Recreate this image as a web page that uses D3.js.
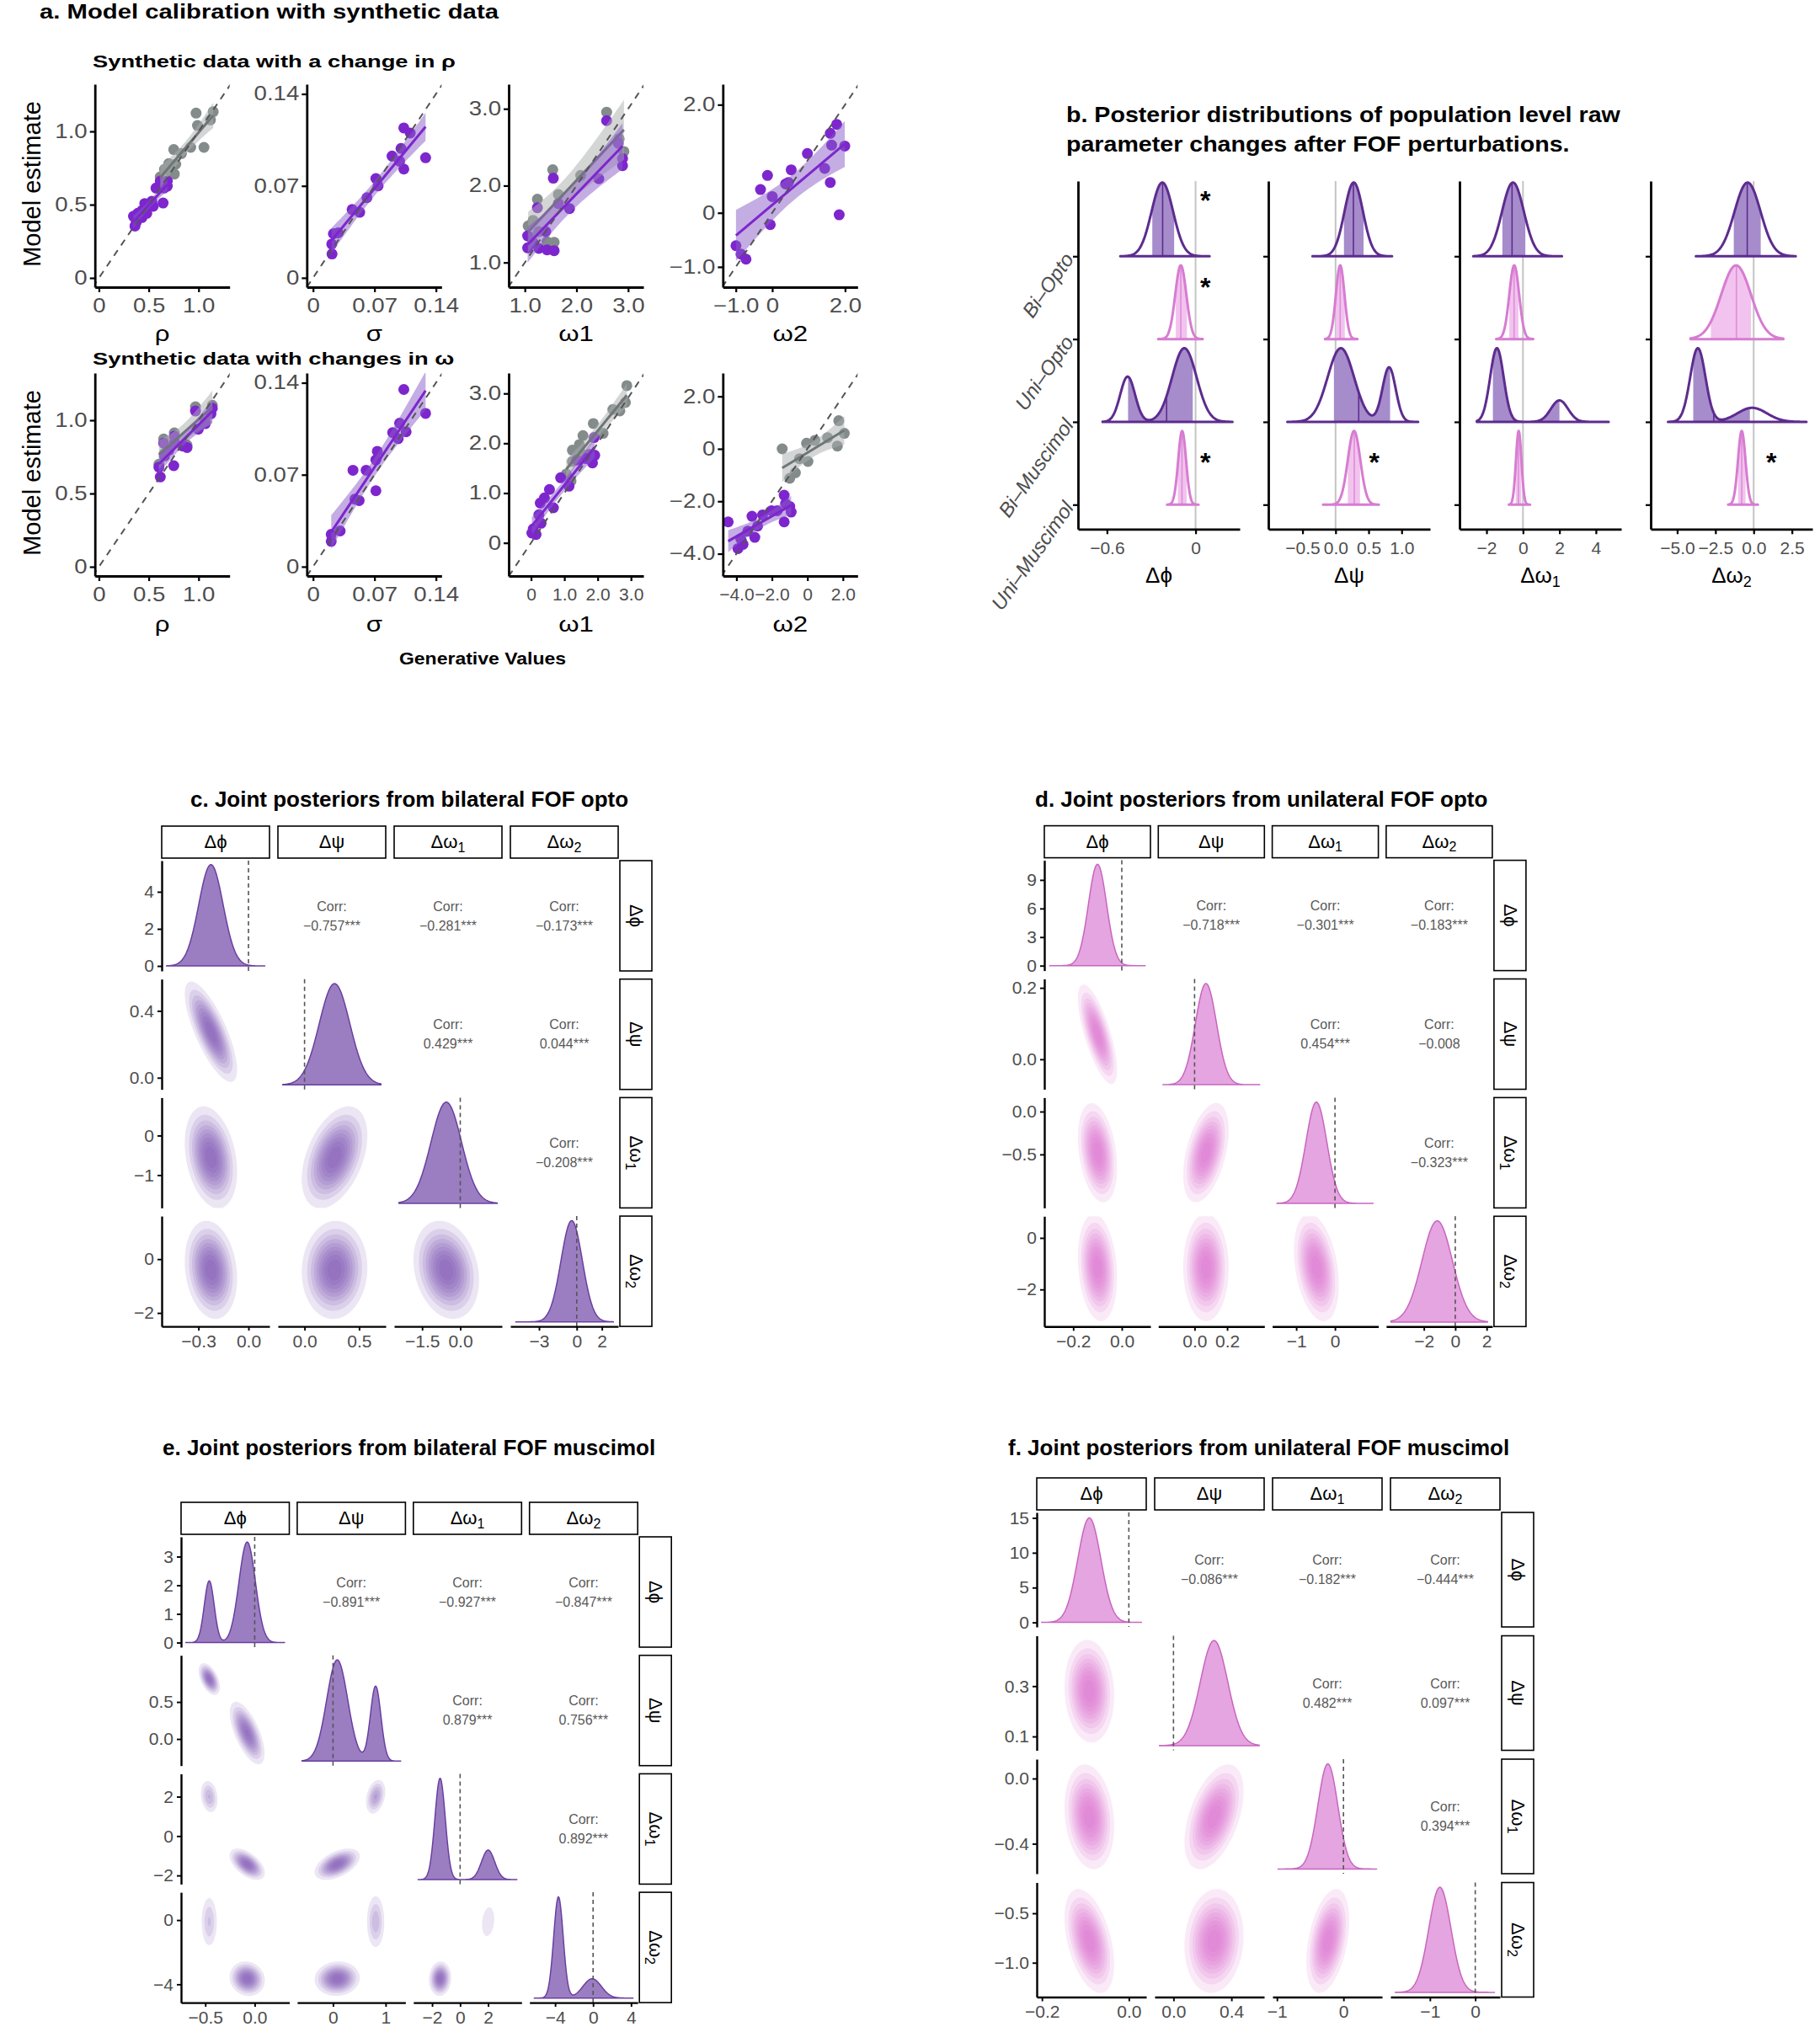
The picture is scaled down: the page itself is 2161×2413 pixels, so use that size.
<!DOCTYPE html>
<html>
<head>
<meta charset="utf-8">
<script src="https://cdn.jsdelivr.net/npm/d3@7"></script>
<style>
  body { margin: 0; background: #fff; }
  svg { display: block; }
  text { font-family: "Liberation Sans", Arial, sans-serif; }
</style>
</head>
<body>
<div id="chart"></div>
<script>
// ---------------------------------------------------------------------------
// Data
// ---------------------------------------------------------------------------

// a. calibration: [generative value, model estimate]
const calibLabels = ["ρ", "σ", "ω1", "ω2"];
const calibRowTitles = ["Synthetic data with a change in ρ", "Synthetic data with changes in ω"];

const rhoSetRhoGray = [[0.975,1.125],[1.147,1.134],[1.119,1.079],[0.989,1.040],[1.054,0.891],[0.921,0.891],[0.751,0.876],[0.828,0.849],[0.701,0.780],[0.771,0.776],[0.658,0.741],[0.723,0.718],[0.616,0.690],[0.757,0.709]];
const rhoSetRhoPurple = [[0.616,0.661],[0.686,0.661],[0.653,0.613],[0.573,0.613],[0.686,0.626],[0.644,0.511],[0.531,0.523],[0.460,0.508],[0.545,0.489],[0.432,0.460],[0.480,0.441],[0.390,0.441],[0.347,0.421],[0.432,0.412],[0.376,0.383],[0.362,0.354]];
const rhoSetSigmaPurple = [[0.0216,0.0182],[0.0213,0.0257],[0.0232,0.0336],[0.0286,0.0343],[0.0445,0.0520],[0.0531,0.0499],[0.0614,0.0610],[0.0716,0.0756],[0.0741,0.0700],[0.0900,0.0927],[0.0986,0.0888],[0.1034,0.0828],[0.1034,0.1141],[0.1107,0.1102],[0.1282,0.0914],[0.1002,0.0985]];
const rhoSetW1Gray = [[2.584,2.956],[1.54,2.207],[1.243,1.823],[1.649,1.885],[2.081,2.133],[2.827,2.609],[2.919,2.444],[1.065,1.475],[1.16,1.548],[1.27,1.402],[1.568,1.263],[1.43,1.27],[1.108,1.329]];
const rhoSetW1Purple = [[2.584,2.846],[1.551,2.097],[1.243,1.713],[1.649,1.768],[1.865,1.702],[2.432,2.090],[2.892,2.353],[2.892,2.261],[1.054,1.347],[1.054,1.190],[1.27,1.183],[1.43,1.165],[1.568,1.154],[1.162,1.256],[1.405,1.402],[2.81,2.554]];
const rhoSetW2Purple = [[-0.996,-0.608],[-0.858,-0.764],[-0.720,-0.857],[-0.322,0.431],[-0.130,0.691],[-0.054,-0.218],[0,0.301],[0.368,0.535],[0.521,0.795],[0.966,1.096],[1.441,0.821],[1.594,0.561],[1.594,1.470],[1.770,1.636],[1.632,1.252],[1.992,1.236],[1.839,-0.036],[0.444,0.561]];

const wSetRhoGray = [[0.969,1.092],[1.138,1.102],[0.650,0.872],[0.757,0.914],[0.658,0.775],[0.602,0.700],[0.884,0.830],[1.068,0.990]];
const wSetRhoPurple = [[0.969,1.063],[1.138,1.082],[1.124,1.044],[1.068,0.977],[0.997,0.939],[0.884,0.814],[0.842,0.824],[0.757,0.891],[0.757,0.852],[0.650,0.843],[0.658,0.757],[0.751,0.690],[0.602,0.680],[0.616,0.613],[0.701,0.795]];
const wSetSigmaPurple = [[0.0207,0.0193],[0.0207,0.0246],[0.0309,0.0272],[0.0455,0.0734],[0.0605,0.0734],[0.0525,0.0503],[0.0716,0.0578],[0.0732,0.0878],[0.0716,0.0813],[0.0907,0.1021],[0.0986,0.1092],[0.0970,0.0974],[0.1060,0.1027],[0.1034,0.1349],[0.1282,0.1167],[0.0477,0.0514]];
const wSetW1Gray = [[2.875,3.158],[2.833,2.820],[2.456,2.679],[2.666,2.651],[1.869,2.397],[1.559,2.155],[1.450,1.974],[1.241,1.861],[2.163,2.2],[1.241,1.636],[1.744,1.777],[1.492,1.805],[1.056,1.382],[1.199,1.241]];
const wSetW1Purple = [[1.894,2.115],[1.911,1.760],[1.844,1.607],[1.66,1.692],[0.889,1.308],[1.14,1.139],[0.553,1.072],[0.277,0.801],[0.402,0.902],[0.671,0.705],[0.235,0.564],[0.302,0.395],[0.067,0.282],[0.151,0.169],[0.025,0.197],[1.366,1.664]];
const wSetW2Gray = [[-1.42,0.0],[1.767,1.072],[1.688,0.107],[2.08,0.590],[1.136,0.429],[0.426,0.322],[-0.047,0.214],[0.032,-0.482],[-0.442,-0.375],[-0.678,-0.911],[-0.994,-1.125]];
const wSetW2Purple = [[-4.464,-2.787],[-3.912,-3.805],[-3.628,-3.644],[-3.754,-3.43],[-3.123,-2.572],[-2.965,-3.376],[-2.808,-2.948],[-2.524,-2.519],[-2.019,-2.358],[-1.703,-2.358],[-1.309,-1.768],[-1.309,-2.787],[-1.23,-2.09],[-0.994,-2.197],[-0.915,-2.412],[-3.36,-3.14]];

const calibXDomain = [[[-0.04,1.312],[-0.0071,0.1464],[0.687,3.297],[-1.356,2.345]],
                      [[-0.04,1.312],[-0.0071,0.1464],[-0.671,3.374],[-4.764,2.83]]];
const calibYDomain = [[[-0.063,1.322],[-0.0071,0.1474],[0.679,3.32],[-1.375,2.379]],
                      [[-0.063,1.322],[-0.0071,0.1474],[-0.665,3.41],[-4.85,2.89]]];
const calibTicks = [[[0,0.5,1],[0,0.07,0.14],[1,2,3],[-1,0,2]],
                    [[0,0.5,1],[0,0.07,0.14],[0,1,2,3],[-4,-2,0,2]]];
const calibTickLabels = [[["0","0.5","1.0"],["0","0.07","0.14"],["1.0","2.0","3.0"],["−1.0","0","2.0"]],
                         [["0","0.5","1.0"],["0","0.07","0.14"],["0","1.0","2.0","3.0"],["−4.0","−2.0","0","2.0"]]];

// posterior shapes (Δϕ, Δψ, Δω1, Δω2)
const groups = ["Bi–Opto", "Uni–Opto", "Bi–Muscimol", "Uni–Muscimol"];
const biOptoMean = [-0.225, 0.275, -0.55, -0.40];
const biOptoSd = [0.073, 0.14, 0.60, 0.85];
const uniOptoMean = [-0.10, 0.07, -0.48, -1.15];
const uniOptoSd = [0.0375, 0.065, 0.27, 0.97];
const uniMuscMean = [-0.091, 0.28, -0.235, -0.78];
const uniMuscSd = [0.0266, 0.095, 0.15, 0.245];
const biMuscWeight = [0.27, 0.73];
const biMuscMeanA = [-0.46, 0.81, 2.0, -0.1];
const biMuscSdA = [0.05, 0.10, 0.47, 0.97];
const biMuscMeanB = [-0.076, 0.08, -1.43, -3.65];
const biMuscSdB = [0.083, 0.20, 0.37, 0.50];

// correlations, pair order: ϕψ, ϕω1, ϕω2, ψω1, ψω2, ω1ω2
const biOptoCorr = [-0.757, -0.281, -0.173, 0.429, 0.044, -0.208];
const uniOptoCorr = [-0.718, -0.301, -0.183, 0.454, -0.008, -0.323];
const biMuscCorr = [-0.891, -0.927, -0.847, 0.879, 0.756, 0.892];
const uniMuscCorr = [-0.086, -0.182, -0.444, 0.482, 0.097, 0.394];
const biOptoStars = ["***", "***", "***", "***", "***", "***"];
const uniOptoStars = ["***", "***", "***", "***", "", "***"];
const biMuscStars = ["***", "***", "***", "***", "***", "***"];
const uniMuscStars = ["***", "***", "***", "***", "***", "***"];
// within-mode correlations of the two bilateral muscimol modes
const biMuscCorrA = [-0.5, -0.2, 0.0, 0.3, 0.0, 0.2];
const biMuscCorrB = [-0.65, -0.55, -0.1, 0.5, 0.05, 0.05];

// b. ridges: sample range, [q16, mean, q84], significance
const ridgeExtent = [
  [[-0.51, 0.095], [-0.35, 0.855], [-2.73, 2.14], [-3.78, 2.75]],
  [[-0.253, 0.048], [-0.16, 0.33], [-1.47, 0.56], [-4.13, 1.94]],
  [[-0.63, 0.25], [-0.73, 1.25], [-2.53, 4.7], [-5.6, 3.45]],
  [[-0.193, 0.02], [-0.19, 0.655], [-0.78, 0.39], [-1.67, 0.28]]
];
const ridgeInterval = [
  [[-0.293, -0.223, -0.145], [0.127, 0.27, 0.424], [-1.13, -0.6, 0.13], [-1.3, -0.42, 0.46]],
  [[-0.134, -0.1, -0.058], [0.005, 0.07, 0.14], [-0.75, -0.49, -0.25], [-2.8, -1.13, -0.18]],
  [[-0.457, -0.196, -0.019], [-0.025, 0.35, 0.825], [-1.65, -0.4, 2.0], [-3.95, -2.61, -0.25]],
  [[-0.12, -0.092, -0.06], [0.186, 0.283, 0.37], [-0.4, -0.25, -0.1], [-1.02, -0.78, -0.53]]
];
const ridgeSig = [[1, 0, 0, 0], [1, 0, 0, 0], [0, 0, 0, 0], [1, 1, 0, 1]];
const ridgeXDomain = [[-0.796, 0.299], [-1.017, 1.43], [-3.48, 5.39], [-6.73, 3.84]];
const ridgeXTicks = [[-0.6, 0], [-0.5, 0, 0.5, 1], [-2, 0, 2, 4], [-5, -2.5, 0, 2.5]];
const ridgeXTickLabels = [["−0.6", "0"], ["−0.5", "0.0", "0.5", "1.0"], ["−2", "0", "2", "4"], ["−5.0", "−2.5", "0.0", "2.5"]];

// c–f. axis ranges and ticks of the pair plots
const biOptoColDomain = [[-0.52, 0.126], [-0.244, 0.744], [-2.6, 1.64], [-5.28, 3.3]];
const biOptoRowDomain = [[-0.27, 5.68], [-0.07, 0.59], [-1.83, 0.96], [-2.5, 1.6]];
const biOptoColTicks = [[-0.3, 0], [0, 0.5], [-1.5, 0], [-3, 0, 2]];
const biOptoColLabels = [["−0.3", "0.0"], ["0.0", "0.5"], ["−1.5", "0.0"], ["−3", "0", "2"]];
const biOptoRowTicks = [[0, 2, 4], [0, 0.4], [-1, 0], [-2, 0]];
const biOptoRowLabels = [["0", "2", "4"], ["0.0", "0.4"], ["−1", "0"], ["−2", "0"]];

const uniOptoColDomain = [[-0.319, 0.118], [-0.223, 0.429], [-1.62, 1.12], [-4.4, 2.36]];
const uniOptoRowDomain = [[-0.52, 11.06], [-0.084, 0.225], [-1.124, 0.163], [-3.44, 0.84]];
const uniOptoColTicks = [[-0.2, 0], [0, 0.2], [-1, 0], [-2, 0, 2]];
const uniOptoColLabels = [["−0.2", "0.0"], ["0.0", "0.2"], ["−1", "0"], ["−2", "0", "2"]];
const uniOptoRowTicks = [[0, 3, 6, 9], [0, 0.2], [-0.5, 0], [-2, 0]];
const uniOptoRowLabels = [["0", "3", "6", "9"], ["0.0", "0.2"], ["−0.5", "0.0"], ["−2", "0"]];

const biMuscColDomain = [[-0.745, 0.35], [-0.68, 1.376], [-3.34, 4.39], [-6.7, 4.7]];
const biMuscRowDomain = [[-0.16, 3.69], [-0.36, 1.13], [-2.44, 3.16], [-5.14, 1.73]];
const biMuscColTicks = [[-0.5, 0], [0, 1], [-2, 0, 2], [-4, 0, 4]];
const biMuscColLabels = [["−0.5", "0.0"], ["0", "1"], ["−2", "0", "2"], ["−4", "0", "4"]];
const biMuscRowTicks = [[0, 1, 2, 3], [0, 0.5], [-2, 0, 2], [-4, 0]];
const biMuscRowLabels = [["0", "1", "2", "3"], ["0.0", "0.5"], ["−2", "0", "2"], ["−4", "0"]];

const uniMuscColDomain = [[-0.212, 0.04], [-0.13, 0.626], [-1.066, 0.58], [-1.87, 0.545]];
const uniMuscRowDomain = [[-0.65, 15.79], [0.045, 0.50], [-0.584, 0.119], [-1.347, -0.189]];
const uniMuscColTicks = [[-0.2, 0], [0, 0.4], [-1, 0], [-1, 0]];
const uniMuscColLabels = [["−0.2", "0.0"], ["0.0", "0.4"], ["−1", "0"], ["−1", "0"]];
const uniMuscRowTicks = [[0, 5, 10, 15], [0.1, 0.3], [-0.4, 0], [-1, -0.5]];
const uniMuscRowLabels = [["0", "5", "10", "15"], ["0.1", "0.3"], ["−0.4", "0.0"], ["−1.0", "−0.5"]];

// ---------------------------------------------------------------------------
// Helpers
// ---------------------------------------------------------------------------
const W = 2161, H = 2413;
const svg = d3.select("#chart").append("svg")
  .attr("width", W).attr("height", H).attr("viewBox", `0 0 ${W} ${H}`);

const conds = [
  [{ w: 1, mean: biOptoMean, sd: biOptoSd, corr: biOptoCorr }],
  [{ w: 1, mean: uniOptoMean, sd: uniOptoSd, corr: uniOptoCorr }],
  [{ w: biMuscWeight[0], mean: biMuscMeanA, sd: biMuscSdA, corr: biMuscCorrA },
   { w: biMuscWeight[1], mean: biMuscMeanB, sd: biMuscSdB, corr: biMuscCorrB }],
  [{ w: 1, mean: uniMuscMean, sd: uniMuscSd, corr: uniMuscCorr }]
];
const PAIR = [[-1, 0, 1, 2], [0, -1, 3, 4], [1, 3, -1, 5], [2, 4, 5, -1]];

function marginal(cond, p, x) {
  let s = 0;
  cond.forEach(c => {
    const z = (x - c.mean[p]) / c.sd[p];
    s += c.w * Math.exp(-0.5 * z * z) / (c.sd[p] * Math.sqrt(2 * Math.PI));
  });
  return s;
}

function joint(cond, i, j, x, y) {
  let s = 0;
  cond.forEach(c => {
    const sx = c.sd[i], sy = c.sd[j], r = c.corr[PAIR[i][j]];
    const u = (x - c.mean[i]) / sx, v = (y - c.mean[j]) / sy;
    const q = (u * u - 2 * r * u * v + v * v) / (1 - r * r);
    s += c.w * Math.exp(-q / 2) / (2 * Math.PI * sx * sy * Math.sqrt(1 - r * r));
  });
  return s;
}

function paramLabel(sel, p, subSize) {
  sel.append("tspan").text(["Δϕ", "Δψ", "Δω", "Δω"][p]);
  if (p >= 2) sel.append("tspan").attr("dy", "0.3em").attr("font-size", subSize).text(p === 2 ? "1" : "2");
}

function styleAxis(g, lw, fs, sx) {
  g.attr("font-family", null).attr("font-size", null);
  g.select(".domain").attr("stroke", "#000").attr("stroke-width", lw);
  g.selectAll(".tick line").attr("stroke", "#000").attr("stroke-width", lw * 0.8);
  const t = g.selectAll(".tick text").attr("fill", "#4d4d4d").attr("font-size", fs);
  if (sx) t.attr("transform", `scale(${sx},1)`);
}

function stretchText(g, x, y, str, size, sx, opts = {}) {
  return g.append("text")
    .attr("transform", `translate(${x},${y}) scale(${sx},1)`)
    .attr("font-size", size)
    .attr("font-weight", opts.bold ? "bold" : null)
    .attr("text-anchor", opts.anchor || "start")
    .attr("fill", opts.fill || "#000")
    .text(str);
}

// ---------------------------------------------------------------------------
// a. Model calibration
// ---------------------------------------------------------------------------
const SXA = 1.2;
const aColX = [112.7, 364.3, 604, 858.3], aW = 160;
const aRowY = [100, 443], aH = 241;
const PURPLE = "#7D26CD", GRAY = "#848b8b";
const calibSets = [
  [[rhoSetRhoGray, rhoSetRhoPurple], [[], rhoSetSigmaPurple], [rhoSetW1Gray, rhoSetW1Purple], [[], rhoSetW2Purple]],
  [[wSetRhoGray, wSetRhoPurple], [[], wSetSigmaPurple], [wSetW1Gray, wSetW1Purple], [wSetW2Gray, wSetW2Purple]]
];
// crowded x axes get narrower labels
const crowdedX = [[false, false, false, false], [false, false, true, true]];

function linFit(pts) {
  const n = pts.length;
  const mx = d3.mean(pts, d => d[0]), my = d3.mean(pts, d => d[1]);
  const sxx = d3.sum(pts, d => (d[0] - mx) ** 2);
  const b = d3.sum(pts, d => (d[0] - mx) * (d[1] - my)) / sxx;
  const a = my - b * mx;
  const s = Math.sqrt(d3.sum(pts, d => (d[1] - a - b * d[0]) ** 2) / (n - 2));
  return { a, b, s, n, mx, sxx, lo: d3.min(pts, d => d[0]), hi: d3.max(pts, d => d[0]) };
}

const gA = svg.append("g").attr("class", "panel-a");
stretchText(gA, 47, 22, "a. Model calibration with synthetic data", 24, 1.22, { bold: true });

calibSets.forEach((row, r) => {
  stretchText(gA, 110, r === 0 ? 80 : 433, calibRowTitles[r], 21, 1.3, { bold: true });
  gA.append("text")
    .attr("transform", `translate(48,${aRowY[r] + aH / 2 - 2}) rotate(-90)`)
    .attr("text-anchor", "middle").attr("font-size", 29).text("Model estimate");

  row.forEach(([grayPts, purplePts], c) => {
    const px = aColX[c], py = aRowY[r];
    const x = d3.scaleLinear().domain(calibXDomain[r][c]).range([px, px + aW]);
    const y = d3.scaleLinear().domain(calibYDomain[r][c]).range([py + aH, py]);
    const g = gA.append("g");
    const clipId = `clipA${r}${c}`;
    g.append("clipPath").attr("id", clipId).append("rect")
      .attr("x", px).attr("y", py).attr("width", aW).attr("height", aH);
    const body = g.append("g").attr("clip-path", `url(#${clipId})`);

    body.selectAll("circle.gray").data(grayPts).join("circle").attr("class", "gray")
      .attr("cx", d => x(d[0])).attr("cy", d => y(d[1])).attr("r", 6.5).attr("fill", GRAY);
    body.selectAll("circle.purple").data(purplePts).join("circle").attr("class", "purple")
      .attr("cx", d => x(d[0])).attr("cy", d => y(d[1])).attr("r", 6.5).attr("fill", PURPLE);

    [[grayPts, "#a9aeae", 0.5, "#6f7676"], [purplePts, "#8a5cc8", 0.5, PURPLE]].forEach(([pts, rib, op, lc]) => {
      if (pts.length < 3) return;
      const f = linFit(pts);
      const xs = d3.range(41).map(i => f.lo + (f.hi - f.lo) * i / 40);
      const band = xs.map(v => {
        const yh = f.a + f.b * v;
        const se = f.s * Math.sqrt(1 / f.n + (v - f.mx) ** 2 / f.sxx);
        return [v, yh - 2.13 * se, yh + 2.13 * se];
      });
      body.append("path").datum(band)
        .attr("d", d3.area().x(d => x(d[0])).y0(d => y(d[1])).y1(d => y(d[2])))
        .attr("fill", rib).attr("fill-opacity", op);
      body.append("line")
        .attr("x1", x(f.lo)).attr("y1", y(f.a + f.b * f.lo))
        .attr("x2", x(f.hi)).attr("y2", y(f.a + f.b * f.hi))
        .attr("stroke", lc).attr("stroke-width", 3);
    });

    const dl = Math.min(calibXDomain[r][c][0], calibYDomain[r][c][0]);
    const dh = Math.max(calibXDomain[r][c][1], calibYDomain[r][c][1]);
    body.append("line")
      .attr("x1", x(dl)).attr("y1", y(dl)).attr("x2", x(dh)).attr("y2", y(dh))
      .attr("stroke", "#555").attr("stroke-width", 2).attr("stroke-dasharray", "8,7");

    const ax = g.append("g").attr("transform", `translate(0,${py + aH})`)
      .call(d3.axisBottom(x).tickValues(calibTicks[r][c]).tickFormat((d, i) => calibTickLabels[r][c][i])
        .tickSize(6).tickPadding(8).tickSizeOuter(0));
    if (crowdedX[r][c]) styleAxis(ax, 2.8, 21, 1.0);
    else styleAxis(ax, 2.8, 23, SXA);
    const ay = g.append("g").attr("transform", `translate(${px},0)`)
      .call(d3.axisLeft(y).tickValues(calibTicks[r][c]).tickFormat((d, i) => calibTickLabels[r][c][i])
        .tickSize(6).tickPadding(1.5).tickSizeOuter(0));
    styleAxis(ay, 2.8, 23, SXA);

    stretchText(g, px + aW / 2, py + aH + (r === 0 ? 64 : 66), calibLabels[c], 26, SXA, { anchor: "middle" });
  });
});
stretchText(gA, 573, 789, "Generative Values", 20, 1.15, { bold: true, anchor: "middle" });

// ---------------------------------------------------------------------------
// b. Ridge plots
// ---------------------------------------------------------------------------
const gB = svg.append("g").attr("class", "panel-b");
stretchText(gB, 1266, 145, "b. Posterior distributions of population level raw", 26, 1.1, { bold: true });
stretchText(gB, 1266, 180, "parameter changes after FOF perturbations.", 26, 1.1, { bold: true });

const bColX = [1280, 1506, 1733, 1960], bW = 192;
const bTop = 215, bAxisY = 628.3;
const rowY = d3.scaleLinear().domain([0, 3]).range([304.3, 599.3]);
const ridgeH = 87.5;
const starX = [0.067, 0.585, 0, 1.16];
const starLift = [72.6, 67.7, 60, 56];
const bStyle = [
  { stroke: "#5D2C8E", fill: "#A68CCB", mid: "#5D2C8E" },
  { stroke: "#D77CD1", fill: "#F2C3EE", mid: "#DD8ED8" }
];

for (let p = 0; p < 4; p++) {
  const x = d3.scaleLinear().domain(ridgeXDomain[p]).range([bColX[p], bColX[p] + bW]);
  const g = gB.append("g");
  g.append("line").attr("x1", x(0)).attr("x2", x(0)).attr("y1", bTop).attr("y2", bAxisY)
    .attr("stroke", "#c4c4c4").attr("stroke-width", 2);

  groups.forEach((name, gi) => {
    const st = bStyle[gi % 2];
    const ext = ridgeExtent[gi][p], iv = ridgeInterval[gi][p];
    const yb = rowY(gi);
    const xs = d3.range(241).map(i => ext[0] + (ext[1] - ext[0]) * i / 240);
    const mx = d3.max(xs, v => marginal(conds[gi], p, v));
    const yv = v => yb - ridgeH * marginal(conds[gi], p, v) / mx;
    const xsIn = d3.range(121).map(i => iv[0] + (iv[2] - iv[0]) * i / 120);
    g.append("path").datum(xsIn)
      .attr("d", d3.area().x(v => x(v)).y0(yb).y1(v => yv(v)))
      .attr("fill", st.fill);
    g.append("line").attr("x1", x(iv[1])).attr("x2", x(iv[1])).attr("y1", yb).attr("y2", yv(iv[1]))
      .attr("stroke", st.mid).attr("stroke-width", 1.6);
    g.append("path").datum(xs)
      .attr("d", d3.area().x(v => x(v)).y0(yb).y1(v => yv(v)))
      .attr("fill", "none").attr("stroke", st.stroke).attr("stroke-width", 3).attr("stroke-linejoin", "round");
    if (ridgeSig[gi][p]) {
      g.append("text").attr("x", x(starX[p])).attr("y", yb - starLift[gi] + 17)
        .attr("text-anchor", "middle").attr("font-size", 32).attr("font-weight", "bold").text("*");
    }
  });

  const ax = g.append("g").attr("transform", `translate(0,${bAxisY})`)
    .call(d3.axisBottom(x).tickValues(ridgeXTicks[p]).tickFormat((d, i) => ridgeXTickLabels[p][i])
      .tickSize(6).tickPadding(9).tickSizeOuter(0));
  styleAxis(ax, 2.8, 21);
  const yAxisScale = d3.scaleLinear().domain([rowY.invert(bTop), rowY.invert(bAxisY)]).range([bTop, bAxisY]);
  const ay = g.append("g").attr("transform", `translate(${bColX[p]},0)`)
    .call(d3.axisLeft(yAxisScale).tickValues([0, 1, 2, 3]).tickFormat(d => p === 0 ? groups[d] : "")
      .tickSize(6).tickSizeOuter(0));
  styleAxis(ay, 2.8, 24);
  ay.selectAll(".tick text")
    .attr("x", 0).attr("dy", "0.3em").attr("font-style", "italic")
    .attr("transform", "translate(-10,-1) rotate(-55)");

  const t = g.append("text").attr("x", bColX[p] + bW / 2).attr("y", 692)
    .attr("text-anchor", "middle").attr("font-size", 26);
  paramLabel(t, p, 18);
}

// ---------------------------------------------------------------------------
// c–f. Pair plots
// ---------------------------------------------------------------------------
const pairLayouts = [
  { cond: 0, title: "c. Joint posteriors from bilateral FOF opto", tx: 226, ty: 958, x0: 192, y0: 1022, pw: 128, ph: 131, dx: 138, dy: 140.7 },
  { cond: 1, title: "d. Joint posteriors from unilateral FOF opto", tx: 1229, ty: 958, x0: 1240, y0: 1021.6, pw: 126, ph: 131, dx: 135.3, dy: 140.9 },
  { cond: 2, title: "e. Joint posteriors from bilateral FOF muscimol", tx: 193, ty: 1728, x0: 215, y0: 1825, pw: 128.5, ph: 131, dx: 137.9, dy: 140.7 },
  { cond: 3, title: "f. Joint posteriors from unilateral FOF muscimol", tx: 1197, ty: 1728, x0: 1231, y0: 1796, pw: 130, ph: 136, dx: 140, dy: 146.5 }
];
const pairColDomain = [biOptoColDomain, uniOptoColDomain, biMuscColDomain, uniMuscColDomain];
const pairRowDomain = [biOptoRowDomain, uniOptoRowDomain, biMuscRowDomain, uniMuscRowDomain];
const pairColTicks = [biOptoColTicks, uniOptoColTicks, biMuscColTicks, uniMuscColTicks];
const pairColLabels = [biOptoColLabels, uniOptoColLabels, biMuscColLabels, uniMuscColLabels];
const pairRowTicks = [biOptoRowTicks, uniOptoRowTicks, biMuscRowTicks, uniMuscRowTicks];
const pairRowLabels = [biOptoRowLabels, uniOptoRowLabels, biMuscRowLabels, uniMuscRowLabels];
const pairCorr = [biOptoCorr, uniOptoCorr, biMuscCorr, uniMuscCorr];
const pairStars = [biOptoStars, uniOptoStars, biMuscStars, uniMuscStars];
const pairStyle = [
  { fill: "#9B7EC1", stroke: "#6A3FA0", contour: "#6E3CAA" },
  { fill: "#E5A5E0", stroke: "#C865C0", contour: "#D75AC8" }
];

pairLayouts.forEach(L => {
  const ci = L.cond, cond = conds[ci], st = pairStyle[ci % 2];
  const g = svg.append("g").attr("class", "pairs");
  g.append("text").attr("x", L.tx).attr("y", L.ty).attr("font-size", 26).attr("font-weight", "bold").text(L.title);
  const fmt = d3.format(".3f");

  for (let r = 0; r < 4; r++) {
    for (let c = 0; c < 4; c++) {
      const px = L.x0 + c * L.dx, py = L.y0 + r * L.dy;
      const x = d3.scaleLinear().domain(pairColDomain[ci][c]).range([px, px + L.pw]);
      if (r === c) {
        const dom = pairColDomain[ci][c];
        const pad = 0.045 * (dom[1] - dom[0]);
        const xs = d3.range(201).map(i => dom[0] + pad + (dom[1] - dom[0] - 2 * pad) * i / 200);
        const dens = xs.map(v => marginal(cond, c, v));
        const mx = d3.max(dens);
        const yDom = r === 0 ? pairRowDomain[ci][0] : [-0.045 * mx, 1.045 * mx];
        const y = d3.scaleLinear().domain(yDom).range([py + L.ph, py]);
        g.append("path").datum(xs.map((v, i) => [v, dens[i]]))
          .attr("d", d3.area().x(d => x(d[0])).y0(y(0)).y1(d => y(d[1])))
          .attr("fill", st.fill).attr("stroke", st.stroke).attr("stroke-width", 1.5);
        g.append("line").attr("x1", x(0)).attr("x2", x(0)).attr("y1", py).attr("y2", py + L.ph)
          .attr("stroke", "#555").attr("stroke-width", 1.6).attr("stroke-dasharray", "5,4");
        if (r === 0) {
          const ay = g.append("g").attr("transform", `translate(${px},0)`)
            .call(d3.axisLeft(y).tickValues(pairRowTicks[ci][0]).tickFormat((d, i) => pairRowLabels[ci][0][i])
              .tickSize(5).tickPadding(4).tickSizeOuter(0));
          styleAxis(ay, 2.4, 21);
        }
      } else if (r > c) {
        const y = d3.scaleLinear().domain(pairRowDomain[ci][r]).range([py + L.ph, py]);
        const nx = Math.round(L.pw / 2), ny = Math.round(L.ph / 2);
        const vals = new Float64Array(nx * ny);
        for (let j = 0; j < ny; j++) {
          for (let i = 0; i < nx; i++) {
            const xv = x.invert(px + (i + 0.5) * L.pw / nx);
            const yv = y.invert(py + (j + 0.5) * L.ph / ny);
            vals[j * nx + i] = joint(cond, c, r, xv, yv);
          }
        }
        const mx = d3.max(vals);
        const contours = d3.contours().size([nx, ny]).thresholds(d3.range(1, 10).map(k => k * 0.1 * mx))(vals);
        g.append("g").attr("transform", `translate(${px},${py}) scale(${L.pw / nx},${L.ph / ny})`)
          .selectAll("path").data(contours).join("path")
          .attr("d", d3.geoPath()).attr("fill", st.contour).attr("fill-opacity", 0.13);
        if (c === 0) {
          const ay = g.append("g").attr("transform", `translate(${px},0)`)
            .call(d3.axisLeft(y).tickValues(pairRowTicks[ci][r]).tickFormat((d, i) => pairRowLabels[ci][r][i])
              .tickSize(5).tickPadding(4).tickSizeOuter(0));
          styleAxis(ay, 2.4, 21);
        }
      } else {
        const k = PAIR[r][c];
        const v = pairCorr[ci][k];
        const cx = px + L.pw / 2, cy = py + L.ph / 2;
        g.append("text").attr("x", cx).attr("y", cy - 6).attr("text-anchor", "middle")
          .attr("font-size", 16).attr("fill", "#595959").text("Corr:");
        g.append("text").attr("x", cx).attr("y", cy + 17).attr("text-anchor", "middle")
          .attr("font-size", 16).attr("fill", "#595959")
          .text(fmt(v).replace("-", "−") + pairStars[ci][k]);
      }
      if (r === 3) {
        const ax = g.append("g").attr("transform", `translate(0,${py + L.ph})`)
          .call(d3.axisBottom(x).tickValues(pairColTicks[ci][c]).tickFormat((d, i) => pairColLabels[ci][c][i])
            .tickSize(5).tickPadding(5).tickSizeOuter(0));
        styleAxis(ax, 2.4, 21);
      }
    }
  }

  // strips
  for (let c = 0; c < 4; c++) {
    const sx = L.x0 + c * L.dx, sy = L.y0 - 41;
    g.append("rect").attr("x", sx).attr("y", sy).attr("width", L.pw).attr("height", 38)
      .attr("fill", "#fff").attr("stroke", "#000").attr("stroke-width", 1.6);
    const t = g.append("text").attr("x", sx + L.pw / 2).attr("y", sy + 26).attr("text-anchor", "middle")
      .attr("font-family", "Liberation Serif, serif").attr("font-size", 22);
    paramLabel(t, c, 16);
  }
  for (let r = 0; r < 4; r++) {
    const sx = L.x0 + 3 * L.dx + L.pw + 2, sy = L.y0 + r * L.dy;
    g.append("rect").attr("x", sx).attr("y", sy).attr("width", 38).attr("height", L.ph)
      .attr("fill", "#fff").attr("stroke", "#000").attr("stroke-width", 1.6);
    const t = g.append("text").attr("transform", `translate(${sx + 12},${sy + L.ph / 2}) rotate(90)`)
      .attr("text-anchor", "middle").attr("font-family", "Liberation Serif, serif").attr("font-size", 22);
    paramLabel(t, r, 16);
  }
});
</script>
</body>
</html>
